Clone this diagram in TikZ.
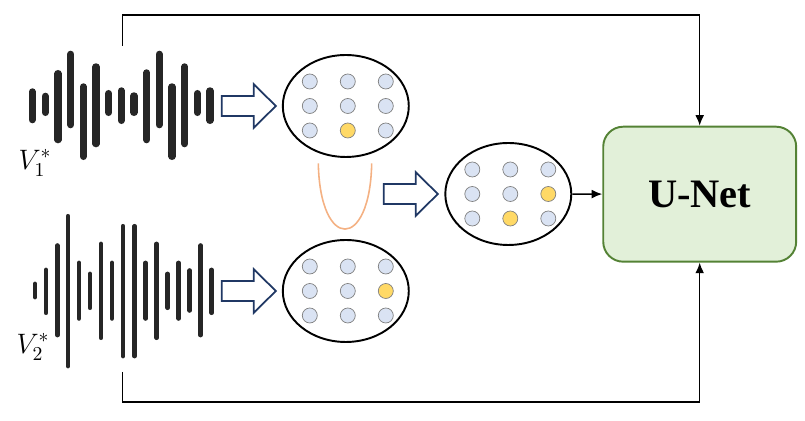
\RequirePackage{fix-cm}
\documentclass[tikz,border=0pt]{standalone}
\usepackage{fontspec}
\usetikzlibrary{shapes.geometric,arrows.meta}

\newfontfamily\unetfont{Liberation Serif}

\definecolor{wavegray}{HTML}{262626}
\definecolor{dotfill}{HTML}{DAE3F3}
\definecolor{hotfill}{HTML}{FFD966}
\definecolor{navy}{HTML}{203864}
\definecolor{peach}{HTML}{F4B183}
\definecolor{unetfill}{HTML}{E2F0D9}
\definecolor{unetedge}{HTML}{548235}

\tikzset{
	bluedot/.style={circle, draw=gray, line width=0.4pt, fill=dotfill, minimum size=0.3cm, inner sep=0pt},
	yellowdot/.style={bluedot, fill=hotfill},
	embed/.style={ellipse, draw=black, line width=1.1pt, minimum width=2.52cm, minimum height=2.04cm, inner sep=0pt},
	fatarrow/.pic={
		\draw [navy, line width=1pt, fill=white] (-54,-10) -- (-22,-10) -- (-22,-21.7) -- (0,0) -- (-22,21.7) -- (-22,10) -- (-54,10) -- cycle;
	}
}

% 3x3 grid of tokens inside an ellipse, #2 and #3 are the yellow ones
\newcommand{\dotgrid}[3]{%
	\foreach \r in {1,2,3}{\foreach \c in {1,2,3}{
		\def\dotkind{bluedot}
		\ifnum\r\c=#2 \def\dotkind{yellowdot}\fi
		\ifnum\r\c=#3 \def\dotkind{yellowdot}\fi
		\node [\dotkind] (#1-\r\c) at ([shift={(\c*38-74,\r*24.5-49)}]#1.center) {};
	}}%
}

\begin{document}
\begin{tikzpicture}[x=0.02cm, y=-0.02cm]
		\useasboundingbox (0,0) rectangle (805,421);

		% first waveform
		\foreach \x/\t/\b in {32.3/88.3/123.3, 45.3/92.7/116, 58/70/143.3, 70.7/50.7/128.3, 83.3/83.3/160, 96/63.3/147.3, 108.7/90/116, 121.3/87.3/124, 134/92.3/116, 146.7/69.3/143.3, 159.3/50.7/128.3, 172/83.3/160, 184.7/63.3/147.3, 197.3/90/116, 210/87.3/124}
			\draw [wavegray, line width=4pt, line cap=round] (\x,\t+3.5) -- (\x,\b-3.5);

		% second waveform
		\foreach \x/\t/\b in {35/281.7/299.3, 46/267.7/315, 57.3/243.3/337.3, 68/214/368.3, 79/260.7/320.7, 90/271.7/310, 101/241.7/340, 112/260.7/320.7, 123/224/358.3, 134.7/224/358.3, 145.7/260.7/320.7, 156.7/241.7/340, 167.7/271.7/310, 178.7/260.7/320.7, 189.7/268.3/312.7, 200.7/243.3/337.3, 211.7/267.7/315}
			\draw [wavegray, line width=2.6pt, line cap=round] (\x,\t+2.2) -- (\x,\b-2.2);

		\node (v1) at (35,163) {\fontsize{16}{19}\selectfont $V_1^*$};
		\node (v2) at (33,347) {\fontsize{16}{19}\selectfont $V_2^*$};

		% embeddings
		\node [embed] (e1) at (345.8,106) {};
		\node [embed] (e2) at (345.8,291) {};
		\node [embed] (e3) at (508.3,194) {};
		\dotgrid{e1}{32}{0}
		\dotgrid{e2}{23}{0}
		\dotgrid{e3}{23}{32}

		\pic at ([xshift=-0.12cm]e1.west) {fatarrow};
		\pic at ([xshift=-0.12cm]e2.west) {fatarrow};
		\pic at ([xshift=-0.13cm]e3.west) {fatarrow};

		\draw [peach, line width=0.9pt] (318.3,163.3) .. controls (320,251) and (370,251) .. (371.7,163.3);

		\node [draw=unetedge, line width=1.1pt, fill=unetfill, rounded corners=0.4cm, minimum width=3.86cm, minimum height=2.7cm] (unet) at (699.7,194.2) {\fontsize{23}{27}\selectfont\unetfont\bfseries U-Net};

		\draw [-{Latex[length=6pt,width=5pt]}, line width=0.8pt] (e3) -- (unet);

		% skip paths
		\coordinate (w1top) at (122.3,46);
		\coordinate (topturn) at (122.3,15);
		\coordinate (w2bot) at (122.6,372);
		\coordinate (botturn) at (122.6,402);
		\draw [-{Latex[length=6pt,width=5pt]}, line width=0.8pt] (w1top) -- (topturn) -| (unet.north);
		\draw [-{Latex[length=6pt,width=5pt]}, line width=0.8pt] (w2bot) -- (botturn) -| (unet.south);
	\end{tikzpicture}
\end{document}
